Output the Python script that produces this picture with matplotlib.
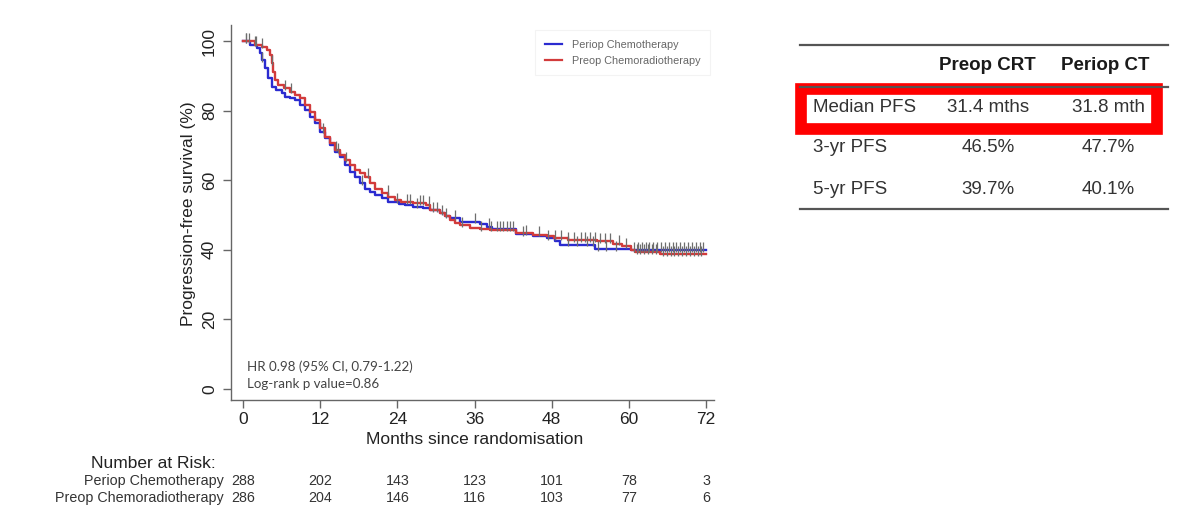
import numpy as np
import matplotlib
matplotlib.use("Agg")
import matplotlib.pyplot as plt
from matplotlib.patches import Rectangle
from matplotlib.lines import Line2D

W, H = 1178, 523

# ---------------- data ----------------
groups = ["Periop Chemotherapy", "Preop Chemoradiotherapy"]

ct_time = [0, 1.1, 2.1, 2.6, 2.9, 3.4, 3.9, 4.5, 5.2, 6.0, 6.5, 7.3, 8.1, 8.9, 9.6, 10.4,
           11.2, 12.0, 12.8, 13.5, 14.3, 15.1, 15.9, 16.6, 17.4, 18.2, 19.0, 19.8, 20.5,
           21.6, 22.6, 24.2, 25.2, 26.5, 28.0, 29.1, 30.6, 31.4, 32.2, 33.7, 36.9, 37.9,
           38.7, 42.5, 45.1, 47.2, 48.5, 49.3, 54.7, 60.3, 72.0]
ct_surv = [100, 98.9, 97.9, 96.5, 94.5, 92.1, 89.3, 86.9, 85.9, 85, 84, 83.5, 83, 81.6,
           80.2, 78.2, 76.3, 73.9, 72, 70.1, 68.2, 66.8, 64.4, 62.4, 61, 59.1, 57.6, 56.7,
           55.7, 54.8, 53.8, 53.3, 52.9, 52.4, 51.9, 51.4, 50.5, 49.8, 49, 48.1, 47.4, 46.6,
           45.9, 44.5, 44, 43.3, 42.6, 41.5, 40.1, 39.9, 39.9]

crt_time = [0, 1.8, 2.9, 3.7, 4.2, 4.5, 4.7, 5.0, 5.5, 6.3, 7.3, 8.1, 8.9, 9.6, 10.4, 11.2,
            12.0, 12.8, 13.5, 14.3, 15.1, 15.9, 16.6, 17.4, 18.2, 19.0, 19.8, 20.5, 21.6,
            22.6, 23.6, 24.6, 26.5, 28.5, 29.1, 30.6, 31.4, 32.2, 33.0, 33.7, 35.3, 36.9,
            38.4, 42.5, 45.1, 47.2, 48.3, 50.5, 55.0, 57.5, 59.0, 60.3, 61.0, 64.9, 72.0]
crt_surv = [100, 98.9, 98.4, 97.4, 96, 93.6, 91.2, 88.8, 87.4, 86.4, 85.4, 84.5, 83.5, 81.6,
            79.7, 77.3, 74.9, 72.5, 70.6, 68.7, 67.2, 65.8, 64.4, 62.9, 62, 61, 59.1, 57.6,
            56.2, 55.3, 54.3, 53.6, 53.4, 52.9, 51.4, 50.5, 49.6, 48.6, 47.8, 47.1, 46.2,
            45.9, 45.7, 44.8, 44.3, 43.9, 43.3, 42.8, 42.5, 41.8, 41, 39.8, 39.3, 38.7, 38.7]

ct_cens = [0.4, 1.0, 2.0, 3.0, 12.5, 14.8, 18.5, 24.0, 27.0, 29.5, 30.2, 31.0, 33.0, 36.0,
           38.3, 39.5, 40.5, 41.5, 43.5, 47.5, 50.5, 52.0, 53.5, 54.5, 55.2, 56.5, 58.0,
           60.8, 61.4, 62.0, 62.6, 63.2, 63.8, 64.4, 65.0, 65.6, 66.2, 66.8, 67.4, 68.0,
           68.6, 69.2, 69.8, 70.4, 71.0, 71.6]
crt_cens = [0.5, 1.8, 3.0, 4.5, 6.5, 7.5, 14.5, 16.0, 19.5, 22.5, 25.5, 26.0, 27.5,
            28.0, 29.0, 31.5, 34.0, 37.0, 38.5, 40.0, 41.0, 42.0, 44.0, 46.0, 48.5, 49.5,
            50.5, 51.5, 52.5, 53.2, 54.0, 54.8, 55.5, 56.3, 57.0, 58.5, 59.5, 61.2, 61.8,
            62.4, 63.0, 63.6, 64.2, 65.3, 65.9, 66.5, 67.1, 67.7, 68.3, 68.9, 69.5, 70.1,
            70.7, 71.3]

risk_times = [0, 12, 24, 36, 48, 60, 72]
ct_risk = [288, 202, 143, 123, 101, 78, 3]
crt_risk = [286, 204, 146, 116, 103, 77, 6]

xticks = [0, 12, 24, 36, 48, 60, 72]
yticks = [0, 20, 40, 60, 80, 100]

table_cols = ["Preop CRT", "Periop CT"]
table_rows = ["Median PFS", "3-yr PFS", "5-yr PFS"]
table_crt = ["31.4 mths", "46.5%", "39.7%"]
table_ct = ["31.8 mth", "47.7%", "40.1%"]

hr_text = ["HR 0.98 (95% CI, 0.79-1.22)", "Log-rank p value=0.86"]

# ---------------- figure ----------------
plt.rcParams['font.family'] = ['Liberation Sans', 'DejaVu Sans']
fig = plt.figure(figsize=(W / 100, H / 100), dpi=100)
fig.patch.set_facecolor('white')


def px(x, y):
    return x / W, 1 - y / H


ax_l, ax_r, ax_t, ax_b = 231, 714, 25, 400
ax = fig.add_axes([ax_l / W, 1 - ax_b / H, (ax_r - ax_l) / W, (ax_b - ax_t) / H])

# map: x=0 -> 243 px, x=72 -> 706 px ; y=0 -> 389 px, y=100 -> 41 px
sx = (706 - 243) / 72.0
sy = (389 - 41) / 100.0
ax.set_xlim(-(243 - ax_l) / sx, 72 + (ax_r - 706) / sx)
ax.set_ylim(-(ax_b - 389) / sy, 100 + (41 - ax_t) / sy)

blue = '#2b2bd0'
red = '#d23b3b'


def surv_at(times, surv, t):
    idx = np.searchsorted(np.asarray(times), t, side='right') - 1
    return np.asarray(surv)[idx]


ax.step(ct_time, ct_surv, where='post', color=blue, lw=1.7, zorder=3)
ax.step(crt_time, crt_surv, where='post', color=red, lw=1.7, zorder=3)

cens_col = '#6e6e6e'
ax.plot(ct_cens, [surv_at(ct_time, ct_surv, t) + 1.0 for t in ct_cens], ls='none',
        marker='|', ms=7, mew=0.9, color=cens_col, zorder=4)
ax.plot(crt_cens, [surv_at(crt_time, crt_surv, t) + 1.0 for t in crt_cens], ls='none',
        marker='|', ms=7, mew=0.9, color=cens_col, zorder=4)

for s in ['top', 'right']:
    ax.spines[s].set_visible(False)
for s in ['left', 'bottom']:
    ax.spines[s].set_color('#666666')
    ax.spines[s].set_linewidth(1.0)

ax.set_xticks(xticks)
ax.set_yticks(yticks)
ax.tick_params(axis='both', direction='out', length=6, width=1.0, color='#666666',
               labelsize=12.5, labelcolor='#222222')
ax.tick_params(axis='x', pad=3)
ax.tick_params(axis='y', pad=4)
for lab in ax.get_yticklabels():
    lab.set_rotation(90)
    lab.set_va('center')

fig.text(*px(475, 439), "Months since randomisation", ha='center', va='center',
         fontsize=12.5, color='#222222')
fig.text(*px(188, 214), "Progression-free survival (%)", ha='center', va='center',
         fontsize=12.5, color='#222222', rotation=90)

# HR text
fig.text(*px(247, 367), hr_text[0], ha='left', va='center', fontsize=9.6,
         family=['Lato', 'DejaVu Sans'], color='#444444')
fig.text(*px(247, 384), hr_text[1], ha='left', va='center', fontsize=9.6,
         family=['Lato', 'DejaVu Sans'], color='#444444')

# legend
handles = [Line2D([], [], color=blue, lw=1.6), Line2D([], [], color=red, lw=1.6)]
leg = ax.legend(handles, groups, loc='upper left',
                bbox_to_anchor=((535 - ax_l) / (ax_r - ax_l), 1 - (30 - ax_t) / (ax_b - ax_t)),
                fontsize=7.8, frameon=True, fancybox=False, handlelength=1.6,
                handletextpad=0.9, borderpad=0.9, labelspacing=0.55, borderaxespad=0)
leg.get_frame().set_edgecolor('#f0f0f0')
leg.get_frame().set_linewidth(0.8)
for t in leg.get_texts():
    t.set_color('#666666')

# number at risk
fig.text(*px(153, 463), "Number at Risk:", ha='center', va='center', fontsize=12.5,
         color='#222222')
for yy, name, vals in [(481, groups[0], ct_risk), (498, groups[1], crt_risk)]:
    fig.text(*px(224, yy), name, ha='right', va='center', fontsize=10.3, color='#333333')
    for t, v in zip(risk_times, vals):
        xx = 243 + t * sx
        fig.text(*px(xx, yy), str(v), ha='center', va='center', fontsize=10.3,
                 color='#333333')

# ---------------- table ----------------
line_col = '#555555'
for yy in [45, 87, 209]:
    fig.add_artist(Line2D([800 / W, 1168 / W], [1 - yy / H, 1 - yy / H],
                          transform=fig.transFigure, color=line_col, lw=1.6))

col_x = [987, 1105]
val_x = [[988, 988, 988], [1109, 1108, 1108]]
row_y = [107, 148, 189]
for cx, c in zip(col_x, table_cols):
    fig.text(*px(cx, 66), c, ha='center', va='center', fontsize=13.5,
             fontweight='bold', color='#1a1a1a')
for i, r in enumerate(table_rows):
    fig.text(*px(813, row_y[i]), r, ha='left', va='center', fontsize=13.5,
             color='#333333')
    fig.text(*px(val_x[0][i], row_y[i]), table_crt[i], ha='center', va='center',
             fontsize=13.5, color='#333333')
    fig.text(*px(val_x[1][i], row_y[i]), table_ct[i], ha='center', va='center',
             fontsize=13.5, color='#333333')

rect = Rectangle((801 / W, 1 - 128.5 / H), (1157 - 801) / W, (128.5 - 89) / H,
                 transform=fig.transFigure, fill=False, edgecolor='#ff0000',
                 linewidth=8.4, joinstyle='miter')
fig.add_artist(rect)

fig.savefig("out.png", dpi=100, facecolor='white')
